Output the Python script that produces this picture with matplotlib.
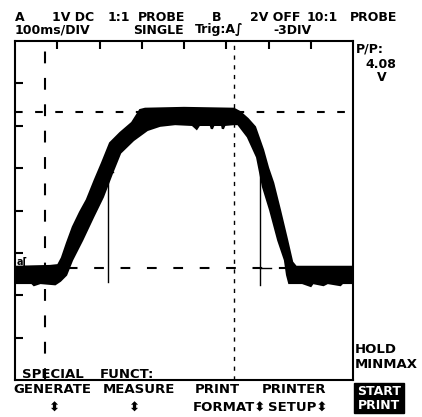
import numpy as np
import matplotlib
matplotlib.use('Agg')
import matplotlib.pyplot as plt
from matplotlib.patches import Rectangle

plt.rcParams['font.family'] = ['DejaVu Sans']
plt.rcParams['lines.scale_dashes'] = False

W, H = 422, 417

# channel A min/max trace: time in ms (100ms/DIV), level in V (1V/DIV)
t_max = [0, 83, 102, 111, 123, 137, 154, 170, 189, 206, 225, 249, 277, 296, 308,
         400, 518, 533, 551, 568, 587, 599, 611, 627, 644, 656, 665, 800]
v_max = [-1.33, -1.31, -1.29, -1.12, -0.77, -0.39, -0.04, 0.25, 0.72, 1.12, 1.59, 1.83, 2.07, 2.37, 2.40,
         2.42, 2.40, 2.32, 2.16, 1.97, 1.43, 1.00, 0.65, 0.01, -0.70, -1.22, -1.33, -1.33]
t_min = [0, 40, 45, 60, 95, 107, 121, 135, 159, 185, 208, 230, 249, 280, 313, 343, 379,
         420, 430, 436, 463, 466, 470, 490, 492, 496, 518, 528, 551, 573, 587, 604, 623, 639, 644, 649,
         680, 700, 705, 730, 740, 770, 775, 800]
v_min = [-1.71, -1.71, -1.76, -1.71, -1.74, -1.66, -1.52, -1.17, -0.70, -0.15, 0.32, 0.89, 1.36, 1.66, 1.90, 2.00, 2.04,
         2.02, 1.93, 2.02, 2.02, 1.93, 2.02, 2.02, 1.93, 2.02, 2.04, 2.04, 1.74, 1.26, 0.56, 0.01, -0.70, -1.17, -1.52, -1.71,
         -1.71, -1.78, -1.71, -1.76, -1.71, -1.76, -1.71, -1.71]

# cursors
cursor_v = [2.32, -1.36]
cursor_t = [71, 518]
# thin event markers
marker_t = [220, 580]
marker_top = [0.91, 0.96]
marker_bot = [-1.69, -1.76]

fig = plt.figure(figsize=(W / 100, H / 100), dpi=100)
ax = fig.add_axes([15 / W, (H - 380) / H, 338 / W, 339 / H])
ax.set_xlim(0, 800)
ax.set_ylim(-4, 4)

ax.fill(t_max + t_min[::-1], v_max + v_min[::-1], color='black', lw=1.6)

ax.axhline(cursor_v[0], color='black', lw=1.5, dashes=(5.5, 9))
ax.axhline(cursor_v[1], color='black', lw=1.5, dashes=(7, 12))
ax.axvline(cursor_t[0], color='black', lw=1.5, dashes=(8.5, 10.5))
ax.axvline(cursor_t[1], color='black', lw=1.0, dashes=(3, 4))

ax.plot([marker_t[0], marker_t[0]], [marker_top[0], marker_bot[0]], color='black', lw=1)
ax.plot([marker_t[0], marker_t[0] + 12], [marker_top[0], marker_top[0]], color='black', lw=1)
ax.plot([marker_t[1], marker_t[1]], [marker_top[1], marker_bot[1]], color='black', lw=1)
ax.plot([marker_t[1], marker_t[1] + 26], [cursor_v[1], cursor_v[1]], color='black', lw=1)
ax.text(5, cursor_v[1] + 0.08, 'a[', fontsize=7, fontweight='bold', va='baseline')

for s in ax.spines.values():
    s.set_linewidth(1.5)
ax.set_xticks(np.arange(100, 800, 100))
ax.set_yticks(np.arange(-3, 4))
ax.tick_params(which='major', direction='in', length=6, width=1.5, top=True, bottom=False,
               left=True, right=False, labelbottom=False, labelleft=False)


def label(x, y, s, color='black', ha='left', size=9.5):
    # y is the text baseline in pixels from the top
    fig.text(x / W, 1 - y / H, s, va='baseline', ha=ha, fontsize=size,
             fontweight='bold', color=color)


# header
for x, s in [(15, 'A'), (52, '1V DC'), (108, '1:1'), (138, 'PROBE'),
             (212, 'B'), (250, '2V OFF'), (307, '10:1'), (350, 'PROBE')]:
    label(x, 21, s, size=9)
for x, s in [(15, '100ms/DIV'), (133, 'SINGLE'), (195, 'Trig:A∫'), (273, '-3DIV')]:
    label(x, 33.5, s, size=9)

# side panel
label(356, 53, 'P/P:', size=9)
label(365, 68, '4.08', size=9)
label(377, 81, 'V', size=9)
label(355, 353, 'HOLD')
label(355, 368, 'MINMAX')

# soft key bar
label(22, 378, 'SPECIAL')
label(100, 378, 'FUNCT:')
for x, s in [(13, 'GENERATE'), (103, 'MEASURE'), (195, 'PRINT'), (262, 'PRINTER')]:
    label(x, 393, s)
for x, s in [(48, '⬍'), (128, '⬍'), (193, 'FORMAT⬍'), (268, 'SETUP⬍')]:
    label(x, 412, s)
fig.patches.append(Rectangle((354 / W, 1 - 413 / H), 50 / W, 30 / H,
                             transform=fig.transFigure, color='black'))
label(379, 395, 'START', color='white', ha='center', size=9)
label(379, 409, 'PRINT', color='white', ha='center', size=9)

fig.savefig('out.png', dpi=100)
